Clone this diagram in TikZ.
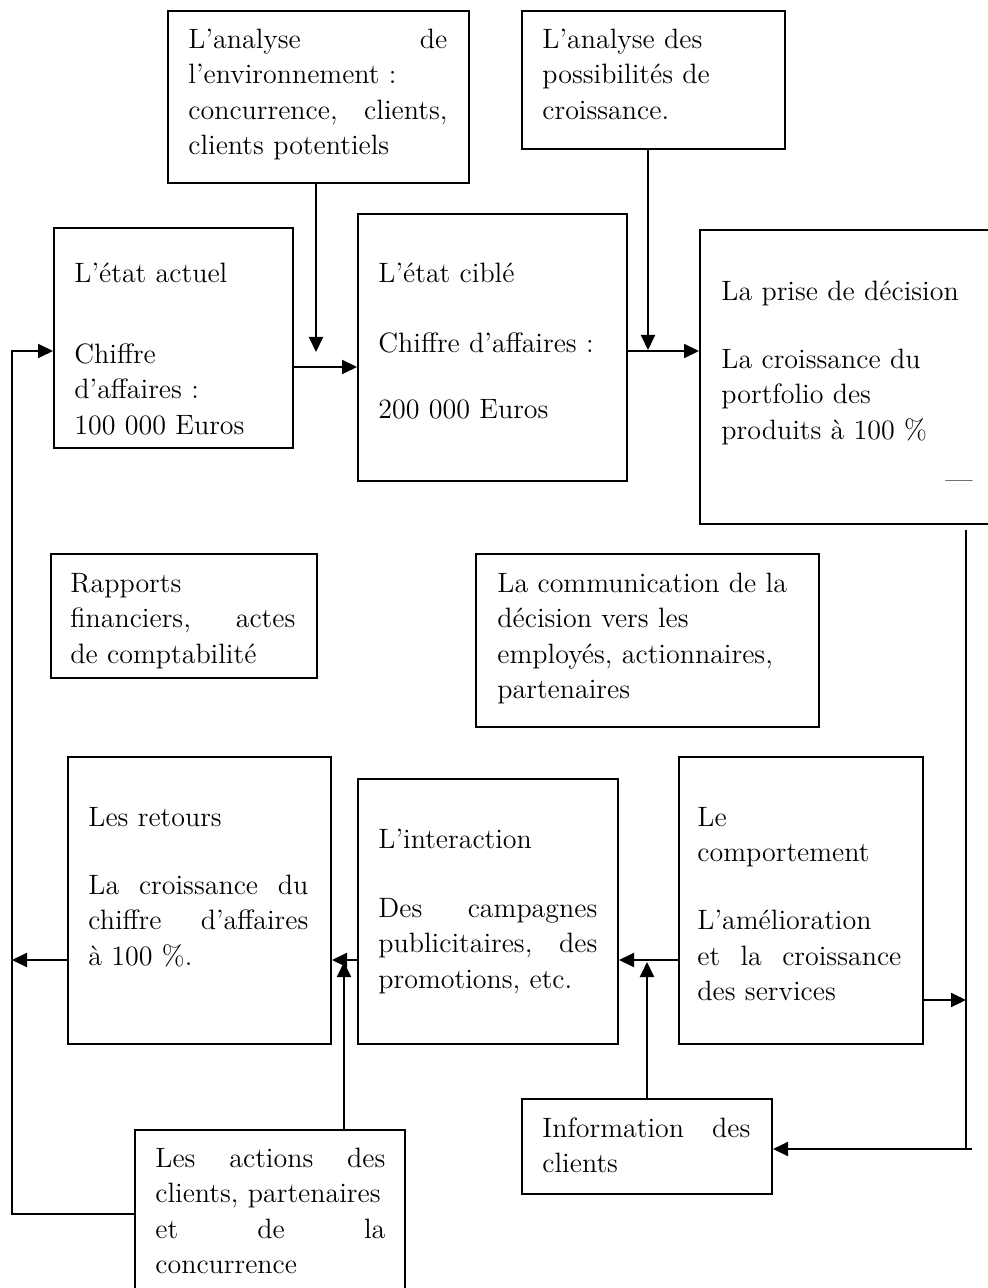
\documentclass[tikz,border=0pt]{standalone}
\usepackage{tikz}
\usetikzlibrary{arrows.meta,positioning}
\tikzstyle{box} = [draw, line width=1pt, rectangle, anchor=north west, inner sep=0pt]
\tikzstyle{txt} = [anchor=north west, inner sep=0pt, align=left, font=\fontsize{14}{17.75}\selectfont, execute at begin node=\strut]
\tikzstyle{arrow} = [line width=1pt, -{Triangle[length=7.5pt,width=7pt]}]
\tikzstyle{link} = [line width=1pt]

\begin{document}
\begin{tikzpicture}[x=0.5pt, y=-0.5pt]
\useasboundingbox (0,0) rectangle (987,1288);

% Upper row
\node[box, minimum width=150.5pt, minimum height=86pt] (env) at (167,10) {};
\node[txt, text width=129.5pt] (env-t) at (188,23) {L’analyse \hfill de\\ l’environnement :\\ concurrence,\hfill clients,\\ clients potentiels};

\node[box, minimum width=131.5pt, minimum height=69pt] (poss) at (521,10) {};
\node[txt, text width=120pt] (poss-t) at (542,23) {L’analyse des\\ possibilités de\\ croissance.};

\node[box, minimum width=119.5pt, minimum height=110pt] (actuel) at (53,227) {};
\node[txt, text width=105pt] (actuel-t) at (74,257) {L’état actuel\\[22.75pt] Chiffre\\ d’affaires :\\ 100 000 Euros};

\node[box, minimum width=134.5pt, minimum height=133.5pt] (cible) at (357,213) {};
\node[txt, text width=120pt] (cible-t) at (378,257) {L’état ciblé\\[17.25pt] Chiffre d’affaires :\\[15.25pt] 200 000 Euros};

\node[box, minimum width=150pt, minimum height=147pt] (prise) at (699,229) {};
\node[txt, text width=130pt] (prise-t) at (721,275) {La prise de décision\\[16.25pt] La croissance du\\ portfolio des\\ produits à 100~\%};
\node[txt, anchor=base west] (dash) at (945,488) {—};

% Middle row
\node[box, minimum width=133pt, minimum height=62pt] (rapports) at (50,553) {};
\node[txt, text width=112.5pt] (rapports-t) at (70,567) {Rapports\\ financiers,\hfill actes\\ de comptabilité};

\node[box, minimum width=171.5pt, minimum height=86.5pt] (comm) at (475,553) {};
\node[txt, text width=155pt] (comm-t) at (497,567) {La communication de la\\ décision vers les\\ employés, actionnaires,\\ partenaires};

% Lower row
\node[box, minimum width=131.5pt, minimum height=143.5pt] (retours) at (67,756) {};
\node[txt, text width=110pt] (retours-t) at (88,801) {Les retours\\[16.25pt] La \hfill croissance \hfill du\\ chiffre \hfill d’affaires\\ à 100~\%.};

\node[box, minimum width=130pt, minimum height=132.5pt] (inter) at (357,778) {};
\node[txt, text width=109.5pt] (inter-t) at (378,823) {L’interaction\\[16.75pt] Des \hfill campagnes\\ publicitaires,\hfill des\\ promotions, etc.};

\node[box, minimum width=122pt, minimum height=143.5pt] (comport) at (678,756) {};
\node[txt, text width=102pt] (comport-t) at (697,801) {Le\\ comportement\\[16.25pt] L’amélioration\\ et \hfill la \hfill croissance\\ des services};

\node[box, minimum width=125pt, minimum height=47.5pt] (info) at (521,1098) {};
\node[txt, text width=104pt] (info-t) at (542,1112) {Information \hfill des\\ clients};

\node[box, minimum width=135pt, minimum height=100pt] (actions) at (134,1129) {};
\node[txt, text width=115pt] (actions-t) at (155,1142) {Les \hfill actions \hfill des\\ clients, partenaires\\ et \hfill de \hfill la\\ concurrence};

% Upper flow
\coordinate (envtip) at (316,352);
\coordinate (posstip) at (648,350);
\draw[arrow] (envtip |- env.south) -- (envtip);
\draw[arrow] (posstip |- poss.south) -- (posstip);
\draw[arrow] (actuel.east |- 0,367) -- (cible.west |- 0,367);
\draw[arrow] (cible.east |- 0,351) -- (prise.west |- 0,351);

% Lower flow
\draw[arrow] (comport.west |- 0,960) -- (inter.east |- 0,960);
\draw[arrow] (inter.west |- 0,960) -- (retours.east |- 0,960);
\coordinate (backL) at (12,960);
\draw[arrow] (retours.west |- backL) -- (backL);
\coordinate (acttip) at (344,962);
\coordinate (infotip) at (647,962);
\draw[arrow] (acttip |- actions.north) -- (acttip);
\draw[arrow] (infotip |- info.north) -- (infotip);

% Left loop
\coordinate (loopL) at (12,351);
\draw[arrow] (actions.west |- 0,1214) -| (loopL) -- (loopL -| actuel.west);

% Right loop
\coordinate (rtop) at (966,530);
\coordinate (rbot) at (966,1149);
\draw[link] (rtop) -- (rbot);
\draw[arrow] ([xshift=3pt]rbot) -- (rbot -| info.east);
\draw[arrow] (comport.east |- 0,1000) -- (rtop |- 0,1000);
\end{tikzpicture}
\end{document}
